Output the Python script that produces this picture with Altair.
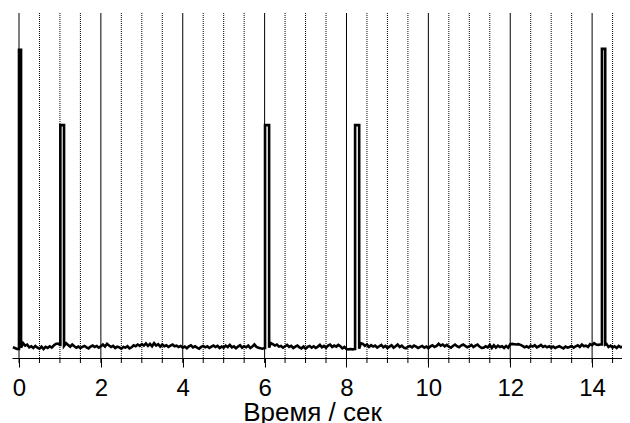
import altair as alt
import pandas as pd

# ---- data ----
noise_start = -0.15
noise_step = 0.05
noise = [
    3.1, 2.9, 2.6, 3.0, 3.2, 4.3, 3.6, 3.9, 3.1, 3.4, 2.9, 3.5, 3.0, 2.7, 3.3, 2.6, 3.2, 2.9, 3.4, 3.0,
    3.6, 4.1, 4.2, 3.8, 3.5, 3.4, 4.3, 3.8, 3.3, 3.9, 3.4, 3.0, 3.3, 2.9, 3.2, 3.5, 3.1, 2.8, 3.3, 3.6,
    3.2, 3.5, 3.0, 3.4, 3.9, 3.3, 4.1, 3.6, 3.2, 3.5, 2.9, 3.3, 3.1, 2.7, 3.2, 3.0, 3.4, 2.8, 3.1, 3.7,
    3.4, 3.9, 3.5, 4.0, 3.6, 4.2, 3.5, 4.1, 3.4, 4.3, 3.6, 4.0, 3.3, 3.9, 3.4, 3.7, 3.2, 3.6, 3.9, 3.4,
    3.6, 3.2, 3.5, 3.0, 3.3, 2.8, 3.4, 3.7, 3.1, 3.4, 3.0, 2.7, 3.2, 3.5, 3.1, 3.4, 2.9, 3.3, 3.6, 3.2,
    3.5, 2.9, 3.3, 3.0, 3.6, 3.2, 3.8, 3.1, 3.4, 2.8, 3.3, 3.7, 3.0, 3.4, 3.1, 3.6, 2.9, 3.3, 3.9, 3.2,
    3.0, 2.8, 2.7, 2.9, 3.0, 3.1, 4.3, 4.0, 3.6, 3.9, 3.3, 3.5, 3.0, 3.4, 3.8, 3.2, 3.5, 2.9, 3.3, 3.6,
    3.1, 2.8, 3.3, 2.7, 3.2, 3.5, 3.0, 3.4, 2.9, 3.3, 3.8, 3.1, 3.5, 3.0, 3.6, 3.9, 3.2, 3.6, 3.3, 3.8,
    3.4, 2.8, 3.2, 2.6, 2.5, 2.6, 2.5, 2.6, 2.7, 3.0, 4.3, 4.1, 3.5, 3.9, 3.2, 3.7, 3.3, 3.6, 3.0, 3.4,
    3.8, 3.1, 3.5, 2.9, 3.3, 3.7, 3.0, 3.4, 3.9, 3.2, 3.6, 3.0, 2.8, 3.2, 3.5, 3.1, 3.6, 3.3, 2.9, 3.2,
    3.5, 3.0, 3.3, 2.8, 3.4, 3.7, 3.2, 3.5, 4.1, 3.6, 3.9, 3.4, 3.8, 3.3, 3.0, 3.5, 3.9, 3.4, 3.1, 3.6,
    3.9, 3.5, 3.1, 3.4, 3.8, 3.2, 3.6, 3.9, 3.3, 2.9, 3.0, 3.4, 3.1, 3.8, 2.9, 3.7, 3.0, 3.6, 3.2, 3.4,
    2.9, 3.5, 3.0, 4.0, 4.1, 4.0, 3.9, 4.0, 3.8, 3.5, 3.1, 3.4, 3.0, 3.6, 3.3, 3.7, 3.1, 3.4, 3.8, 3.2,
    3.5, 3.1, 3.4, 3.0, 3.3, 2.9, 3.2, 3.4, 3.1, 2.8, 3.3, 3.0, 3.2, 3.5, 3.0, 3.4, 3.7, 3.2, 3.9, 3.4,
    3.6, 3.2, 4.0, 3.7, 4.3, 3.9, 3.8, 3.9, 3.9, 3.8, 4.1, 3.2, 3.6, 3.0, 3.4, 2.9, 3.5, 3.1, 3.3, 2.9,
    3.4, 3.1, 3.3,
]
spike_start = [0.00, 1.01, 6.01, 8.21, 14.24]
spike_end = [0.05, 1.10, 6.11, 8.31, 14.32]
spike_height = [89.3, 67.5, 67.5, 67.5, 89.6]

major_ticks = [0, 2, 4, 6, 8, 10, 12, 14]
minor_ticks = [0.5, 1, 1.5, 2.5, 3, 3.5, 4.5, 5, 5.5, 6.5, 7, 7.5,
               8.5, 9, 9.5, 10.5, 11, 11.5, 12.5, 13, 13.5, 14.5]
all_small_ticks = sorted(major_ticks + minor_ticks)

x_domain = [-0.171, 14.73]
y_domain = [0, 100]

# ---- build the line table ----
rows = []
done = [False] * len(spike_start)
last_v = noise[0]
for i, v in enumerate(noise):
    t = round(noise_start + i * noise_step, 4)
    for k in range(len(spike_start)):
        if not done[k] and t >= spike_start[k]:
            s, e, h = spike_start[k], spike_end[k], spike_height[k]
            rows.append((s, last_v))
            rows.append((s, h))
            rows.append((e, h))
            rows.append((e, v))
            done[k] = True
    inside = any(spike_start[k] <= t <= spike_end[k] for k in range(len(spike_start)))
    if not inside:
        rows.append((t, v))
    last_v = v

line_df = pd.DataFrame({"t": [r[0] for r in rows], "v": [r[1] for r in rows],
                        "o": list(range(len(rows)))})
major_df = pd.DataFrame({"t": major_ticks})
minor_df = pd.DataFrame({"t": minor_ticks})
small_df = pd.DataFrame({"t": all_small_ticks})

W, H = 610, 345
xs = alt.Scale(domain=x_domain, nice=False, zero=False)
ys = alt.Scale(domain=y_domain, nice=False, zero=False)

x_axis = alt.Axis(values=major_ticks, grid=False, tickSize=9,
                  domainColor="black", domainWidth=1,
                  tickColor="black", tickWidth=1,
                  labelFont="Liberation Sans", labelFontSize=24,
                  labelColor="black", labelPadding=9,
                  titleFont="Liberation Sans", titleFontSize=26,
                  titleFontWeight="normal", titleColor="black",
                  titlePadding=-1, titleX=300, titleAlign="center",
                  labelFlush=False)

def xenc():
    return alt.X("t:Q", scale=xs, title="Время / сек", axis=x_axis)

minor_grid = alt.Chart(minor_df).mark_rule(
    color="black", strokeWidth=1, strokeDash=[1, 1]
).encode(x=xenc())

major_grid = alt.Chart(major_df).mark_rule(
    color="black", strokeWidth=1
).encode(x=xenc())

small_ticks = alt.Chart(small_df).mark_rule(
    color="black", strokeWidth=1
).encode(x=xenc(), y=alt.value(H), y2=alt.value(H + 5))

line = alt.Chart(line_df).mark_line(
    color="black", strokeWidth=2.6, clip=True, strokeJoin="miter"
).encode(
    x=xenc(),
    y=alt.Y("v:Q", scale=ys, axis=None),
    order="o:Q",
)

chart = alt.layer(minor_grid, major_grid, small_ticks, line).properties(
    width=W, height=H,
    autosize=alt.AutoSizeParams(type="none"),
    padding={"left": 4, "top": 5, "right": 0, "bottom": 70},
).configure_view(stroke=None)

chart.save("out.html", embed_options={"renderer": "svg", "actions": False})
